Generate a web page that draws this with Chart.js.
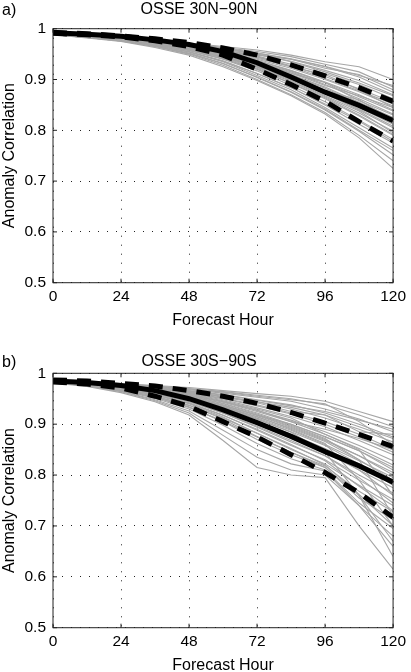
<!DOCTYPE html>
<html>
<head>
<meta charset="utf-8">
<script src="https://cdn.jsdelivr.net/npm/chart.js@4.4.1/dist/chart.umd.min.js"></script>
<style>
  html, body { margin: 0; padding: 0; background: #fff; width: 411px; height: 672px; overflow: hidden; }
  .panel { position: absolute; left: 0; width: 411px; }
  .tag { position: absolute; left: 2px; font: 16px "Liberation Sans", Arial, sans-serif; color: #000; }
</style>
</head>
<body>
<div class="panel" style="top:0;height:330px">
  <canvas id="chartA" width="411" height="330"></canvas>
  <span class="tag" style="top:1px">a)</span>
</div>
<div class="panel" style="top:330px;height:345px">
  <canvas id="chartB" width="411" height="345"></canvas>
  <span class="tag" style="top:23px">b)</span>
</div>
<script>
// forecast hours (x) and axis ticks
const hours = [0, 12, 24, 36, 48, 60, 72, 84, 96, 108, 120];
const hourTicks = [0, 24, 48, 72, 96, 120];
const corrTicks = [0.5, 0.6, 0.7, 0.8, 0.9, 1];

// panel a: 30N-90N, ensemble mean and +/- spread
const northMean  = [0.992, 0.989, 0.985, 0.978, 0.969, 0.955, 0.933, 0.905, 0.875, 0.849, 0.819];
const northUpper = [0.993, 0.990, 0.986, 0.980, 0.973, 0.962, 0.948, 0.929, 0.907, 0.884, 0.857];
const northLower = [0.991, 0.988, 0.984, 0.976, 0.965, 0.948, 0.920, 0.890, 0.857, 0.817, 0.779];

// individual forecasts, 30N-90N
const northMembers = [
  [0.993, 0.990, 0.986, 0.979, 0.972, 0.965, 0.958, 0.948, 0.935, 0.925, 0.900],
  [0.992, 0.989, 0.985, 0.978, 0.971, 0.963, 0.955, 0.945, 0.930, 0.915, 0.885],
  [0.992, 0.989, 0.984, 0.977, 0.970, 0.962, 0.952, 0.940, 0.925, 0.905, 0.875],
  [0.991, 0.988, 0.984, 0.977, 0.969, 0.960, 0.950, 0.936, 0.918, 0.898, 0.870],
  [0.992, 0.988, 0.983, 0.976, 0.968, 0.958, 0.946, 0.930, 0.912, 0.890, 0.862],
  [0.991, 0.988, 0.983, 0.975, 0.967, 0.957, 0.944, 0.927, 0.906, 0.882, 0.855],
  [0.990, 0.987, 0.982, 0.975, 0.966, 0.955, 0.940, 0.922, 0.900, 0.876, 0.848],
  [0.991, 0.987, 0.982, 0.974, 0.965, 0.953, 0.938, 0.918, 0.895, 0.870, 0.840],
  [0.990, 0.986, 0.981, 0.973, 0.964, 0.951, 0.935, 0.915, 0.890, 0.862, 0.832],
  [0.990, 0.986, 0.981, 0.973, 0.963, 0.950, 0.932, 0.910, 0.885, 0.855, 0.825],
  [0.990, 0.986, 0.980, 0.972, 0.962, 0.948, 0.930, 0.906, 0.880, 0.850, 0.818],
  [0.989, 0.985, 0.980, 0.971, 0.961, 0.946, 0.927, 0.903, 0.876, 0.845, 0.812],
  [0.990, 0.985, 0.979, 0.970, 0.960, 0.945, 0.925, 0.900, 0.872, 0.840, 0.805],
  [0.989, 0.985, 0.979, 0.970, 0.959, 0.943, 0.922, 0.896, 0.866, 0.834, 0.798],
  [0.989, 0.984, 0.978, 0.969, 0.958, 0.941, 0.920, 0.892, 0.862, 0.828, 0.790],
  [0.989, 0.984, 0.978, 0.968, 0.957, 0.940, 0.917, 0.888, 0.856, 0.820, 0.782],
  [0.988, 0.984, 0.977, 0.967, 0.955, 0.937, 0.912, 0.884, 0.850, 0.812, 0.775],
  [0.989, 0.983, 0.977, 0.967, 0.954, 0.935, 0.908, 0.880, 0.845, 0.805, 0.765],
  [0.988, 0.983, 0.976, 0.966, 0.952, 0.932, 0.904, 0.875, 0.840, 0.798, 0.752],
  [0.988, 0.983, 0.976, 0.965, 0.950, 0.928, 0.900, 0.870, 0.835, 0.790, 0.740],
  [0.988, 0.982, 0.975, 0.963, 0.948, 0.925, 0.898, 0.868, 0.832, 0.785, 0.725],
  [0.991, 0.987, 0.983, 0.976, 0.968, 0.958, 0.948, 0.940, 0.922, 0.910, 0.880],
  [0.990, 0.986, 0.981, 0.974, 0.966, 0.956, 0.945, 0.925, 0.910, 0.880, 0.845],
  [0.990, 0.985, 0.980, 0.972, 0.963, 0.952, 0.936, 0.912, 0.894, 0.858, 0.830],
  [0.989, 0.985, 0.979, 0.970, 0.961, 0.948, 0.928, 0.905, 0.878, 0.860, 0.820],
  [0.989, 0.984, 0.978, 0.969, 0.958, 0.944, 0.924, 0.898, 0.868, 0.838, 0.795],
  [0.992, 0.989, 0.985, 0.978, 0.970, 0.961, 0.950, 0.935, 0.915, 0.893, 0.868],
  [0.991, 0.988, 0.983, 0.976, 0.968, 0.957, 0.942, 0.925, 0.902, 0.878, 0.852],
  [0.990, 0.987, 0.982, 0.974, 0.965, 0.953, 0.937, 0.917, 0.894, 0.866, 0.838],
  [0.990, 0.986, 0.981, 0.973, 0.963, 0.949, 0.931, 0.909, 0.883, 0.853, 0.822],
  [0.989, 0.985, 0.980, 0.971, 0.960, 0.945, 0.926, 0.902, 0.873, 0.842, 0.808],
  [0.989, 0.984, 0.978, 0.969, 0.957, 0.941, 0.920, 0.893, 0.864, 0.830, 0.792],
  [0.988, 0.983, 0.977, 0.967, 0.954, 0.936, 0.912, 0.884, 0.852, 0.818, 0.778],
  [0.988, 0.983, 0.976, 0.965, 0.951, 0.931, 0.905, 0.876, 0.842, 0.800, 0.760],
  [0.992, 0.989, 0.985, 0.979, 0.971, 0.962, 0.952, 0.941, 0.926, 0.908, 0.888],
  [0.990, 0.986, 0.981, 0.973, 0.964, 0.952, 0.934, 0.913, 0.888, 0.868, 0.845]
];

// panel b: 30S-90S, ensemble mean and +/- spread
const southMean  = [0.985, 0.982, 0.976, 0.966, 0.950, 0.928, 0.903, 0.876, 0.846, 0.818, 0.786];
const southUpper = [0.987, 0.985, 0.980, 0.975, 0.966, 0.955, 0.941, 0.923, 0.902, 0.880, 0.856];
const southLower = [0.983, 0.979, 0.971, 0.955, 0.935, 0.905, 0.875, 0.840, 0.805, 0.765, 0.717];

// individual forecasts, 30S-90S
const southMembers = [
  [0.988, 0.985, 0.980, 0.976, 0.972, 0.966, 0.960, 0.955, 0.945, 0.925, 0.905],
  [0.987, 0.984, 0.979, 0.975, 0.970, 0.964, 0.957, 0.950, 0.938, 0.918, 0.895],
  [0.987, 0.983, 0.979, 0.974, 0.968, 0.961, 0.953, 0.945, 0.930, 0.910, 0.885],
  [0.986, 0.983, 0.978, 0.973, 0.966, 0.958, 0.948, 0.938, 0.922, 0.900, 0.875],
  [0.986, 0.982, 0.977, 0.971, 0.964, 0.955, 0.944, 0.930, 0.912, 0.890, 0.865],
  [0.986, 0.982, 0.977, 0.970, 0.962, 0.951, 0.938, 0.922, 0.905, 0.880, 0.850],
  [0.985, 0.981, 0.976, 0.969, 0.960, 0.948, 0.932, 0.915, 0.895, 0.868, 0.840],
  [0.985, 0.981, 0.975, 0.968, 0.958, 0.944, 0.927, 0.908, 0.885, 0.858, 0.828],
  [0.985, 0.980, 0.975, 0.967, 0.956, 0.941, 0.922, 0.900, 0.876, 0.848, 0.815],
  [0.984, 0.980, 0.974, 0.966, 0.954, 0.938, 0.917, 0.894, 0.868, 0.838, 0.805],
  [0.984, 0.980, 0.974, 0.965, 0.952, 0.934, 0.912, 0.888, 0.860, 0.828, 0.795],
  [0.984, 0.979, 0.973, 0.963, 0.950, 0.930, 0.906, 0.880, 0.852, 0.818, 0.785],
  [0.984, 0.979, 0.972, 0.962, 0.948, 0.927, 0.900, 0.872, 0.845, 0.810, 0.775],
  [0.983, 0.978, 0.971, 0.960, 0.945, 0.922, 0.894, 0.865, 0.838, 0.800, 0.765],
  [0.983, 0.978, 0.970, 0.958, 0.942, 0.918, 0.888, 0.858, 0.830, 0.790, 0.752],
  [0.983, 0.977, 0.969, 0.957, 0.940, 0.914, 0.882, 0.850, 0.822, 0.780, 0.740],
  [0.983, 0.977, 0.968, 0.955, 0.937, 0.910, 0.876, 0.845, 0.818, 0.768, 0.728],
  [0.982, 0.976, 0.967, 0.953, 0.934, 0.905, 0.870, 0.840, 0.815, 0.755, 0.712],
  [0.982, 0.976, 0.966, 0.951, 0.930, 0.898, 0.862, 0.832, 0.810, 0.745, 0.695],
  [0.982, 0.975, 0.965, 0.948, 0.926, 0.888, 0.850, 0.822, 0.808, 0.740, 0.680],
  [0.982, 0.975, 0.964, 0.946, 0.922, 0.878, 0.835, 0.810, 0.800, 0.740, 0.660],
  [0.981, 0.974, 0.962, 0.944, 0.918, 0.868, 0.815, 0.800, 0.795, 0.700, 0.615],
  [0.987, 0.983, 0.978, 0.974, 0.969, 0.963, 0.955, 0.948, 0.940, 0.905, 0.860],
  [0.986, 0.982, 0.977, 0.971, 0.963, 0.953, 0.942, 0.925, 0.918, 0.885, 0.880],
  [0.985, 0.981, 0.976, 0.968, 0.959, 0.946, 0.930, 0.912, 0.880, 0.850, 0.760],
  [0.985, 0.980, 0.974, 0.966, 0.955, 0.940, 0.920, 0.898, 0.872, 0.830, 0.720],
  [0.984, 0.979, 0.973, 0.964, 0.951, 0.935, 0.915, 0.890, 0.862, 0.790, 0.700],
  [0.984, 0.979, 0.972, 0.962, 0.949, 0.932, 0.910, 0.884, 0.845, 0.760, 0.640],
  [0.985, 0.980, 0.975, 0.967, 0.957, 0.945, 0.928, 0.905, 0.890, 0.872, 0.850],
  [0.984, 0.979, 0.973, 0.964, 0.952, 0.937, 0.918, 0.900, 0.875, 0.848, 0.810],
  [0.986, 0.982, 0.977, 0.972, 0.965, 0.957, 0.947, 0.936, 0.925, 0.908, 0.890],
  [0.985, 0.981, 0.976, 0.969, 0.961, 0.950, 0.936, 0.920, 0.900, 0.875, 0.845],
  [0.985, 0.980, 0.975, 0.967, 0.957, 0.943, 0.925, 0.905, 0.880, 0.852, 0.820],
  [0.984, 0.980, 0.974, 0.965, 0.953, 0.937, 0.918, 0.896, 0.870, 0.838, 0.800],
  [0.984, 0.979, 0.973, 0.963, 0.950, 0.932, 0.910, 0.885, 0.858, 0.822, 0.780],
  [0.983, 0.978, 0.972, 0.961, 0.947, 0.927, 0.903, 0.877, 0.848, 0.810, 0.760],
  [0.983, 0.978, 0.971, 0.960, 0.944, 0.922, 0.896, 0.868, 0.838, 0.795, 0.745],
  [0.983, 0.977, 0.970, 0.958, 0.941, 0.917, 0.890, 0.860, 0.828, 0.778, 0.730],
  [0.982, 0.976, 0.968, 0.955, 0.937, 0.912, 0.882, 0.852, 0.820, 0.762, 0.700],
  [0.982, 0.976, 0.967, 0.953, 0.933, 0.906, 0.875, 0.845, 0.815, 0.760, 0.670],
  [0.986, 0.982, 0.977, 0.971, 0.964, 0.954, 0.944, 0.933, 0.918, 0.895, 0.872],
  [0.984, 0.979, 0.973, 0.964, 0.951, 0.934, 0.914, 0.892, 0.866, 0.830, 0.790]
];

const FONT = '"Liberation Sans", Arial, sans-serif';

const toPoints = (values) => values.map((v, i) => ({ x: hours[i], y: v }));

// box around the plot plus matlab style inward ticks
const framePlugin = {
  id: 'frame',
  afterDatasetsDraw(chart) {
    const { ctx, chartArea: a, scales } = chart;
    ctx.save();
    ctx.strokeStyle = '#222';
    ctx.lineWidth = 1;
    ctx.strokeRect(a.left, a.top, a.right - a.left, a.bottom - a.top);
    ctx.beginPath();
    hourTicks.forEach(h => {
      const x = scales.x.getPixelForValue(h);
      ctx.moveTo(x, a.bottom); ctx.lineTo(x, a.bottom - 4);
      ctx.moveTo(x, a.top); ctx.lineTo(x, a.top + 4);
    });
    corrTicks.forEach(c => {
      const y = scales.y.getPixelForValue(c);
      ctx.moveTo(a.left, y); ctx.lineTo(a.left + 4, y);
      ctx.moveTo(a.right, y); ctx.lineTo(a.right - 4, y);
    });
    ctx.stroke();
    ctx.restore();
  }
};

function buildChart(id, title, members, mean, upper, lower, titlePad) {
  const ctx = document.getElementById(id).getContext('2d');

  // black lines first so they are drawn on top of the grey ones
  const datasets = [
    { data: toPoints(mean), borderColor: '#000', borderWidth: 5 },
    { data: toPoints(upper), borderColor: '#000', borderWidth: 5, borderDash: [14, 10] },
    { data: toPoints(lower), borderColor: '#000', borderWidth: 5, borderDash: [14, 10] }
  ];
  members.forEach(m => {
    datasets.push({ data: toPoints(m), borderColor: '#a6a6a6', borderWidth: 1.1 });
  });

  return new Chart(ctx, {
    type: 'line',
    data: { datasets },
    plugins: [framePlugin],
    options: {
      responsive: false,
      animation: false,
      layout: { padding: { left: 0, right: 13, top: 0, bottom: 0 } },
      elements: {
        point: { radius: 0 },
        line: { tension: 0, fill: false, borderCapStyle: 'butt' }
      },
      plugins: {
        legend: { display: false },
        tooltip: { enabled: false },
        title: {
          display: true,
          text: title,
          color: '#000',
          font: { family: FONT, size: 16, weight: 'normal' },
          padding: titlePad
        }
      },
      scales: {
        x: {
          type: 'linear',
          min: 0,
          max: 120,
          afterFit: (scale) => { scale.height = 47.3; },
          afterBuildTicks: (scale) => { scale.ticks = hourTicks.map(v => ({ value: v })); },
          ticks: { color: '#000', padding: 5, maxRotation: 0, font: { family: FONT, size: 15.5 } },
          grid: { color: '#222', lineWidth: 1, drawTicks: false, borderDash: [1, 8] },
          border: { display: false, dash: [1, 8] },
          title: {
            display: true,
            text: 'Forecast Hour',
            color: '#000',
            font: { family: FONT, size: 16 },
            padding: { top: 0, bottom: 0 }
          }
        },
        y: {
          min: 0.5,
          max: 1,
          afterFit: (scale) => { scale.width = 53; },
          afterBuildTicks: (scale) => { scale.ticks = corrTicks.map(v => ({ value: v })); },
          ticks: {
            color: '#000',
            padding: 7,
            font: { family: FONT, size: 15.5 },
            callback: (v) => (v === 1 ? '1' : v.toFixed(1))
          },
          grid: { color: '#222', lineWidth: 1, drawTicks: false, borderDash: [1, 8] },
          border: { display: false, dash: [1, 8] },
          title: {
            display: true,
            text: 'Anomaly Correlation',
            color: '#000',
            font: { family: FONT, size: 16 },
            padding: { top: 0, bottom: 0 }
          }
        }
      }
    }
  });
}

buildChart('chartA', 'OSSE 30N\u221290N', northMembers, northMean, northUpper, northLower,
  { top: 0, bottom: 9.5 });
buildChart('chartB', 'OSSE 30S\u221290S', southMembers, southMean, southUpper, southLower,
  { top: 22.1, bottom: 2 });
</script>
</body>
</html>
